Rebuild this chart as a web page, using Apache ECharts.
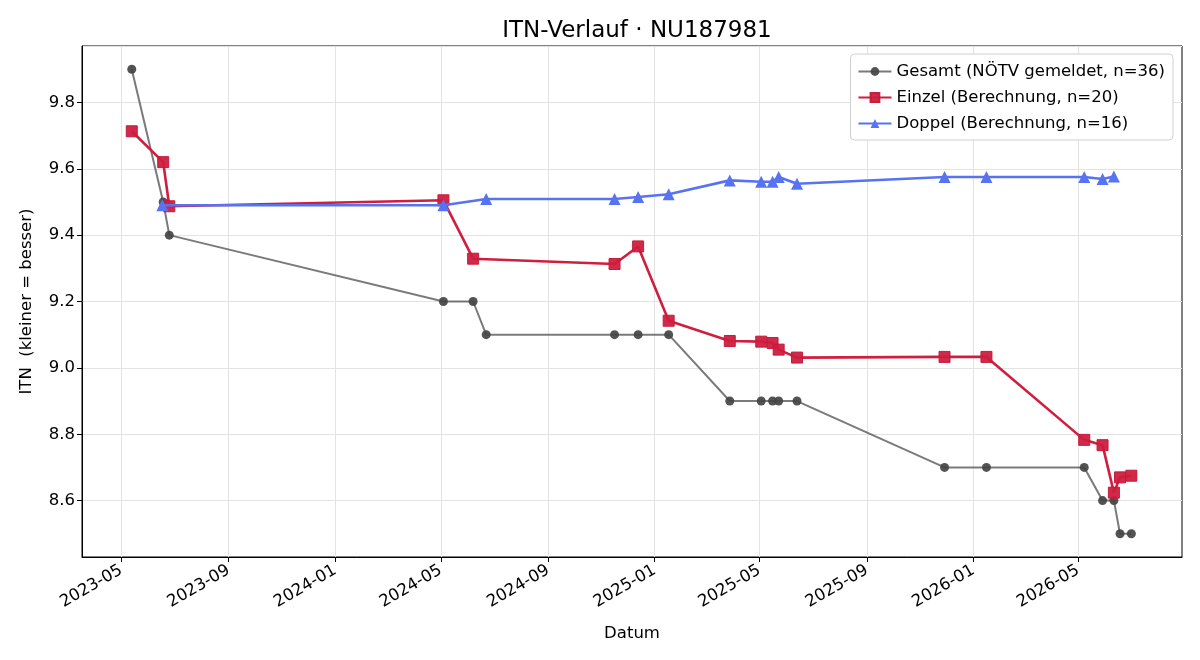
<!DOCTYPE html>
<html>
<head>
<meta charset="utf-8">
<script src="https://cdn.jsdelivr.net/npm/echarts@6/dist/echarts.min.js"></script>
<style>
  html, body { margin: 0; padding: 0; background: #fff; }
  #chart { width: 1200px; height: 660px; }
</style>
</head>
<body>
<div id="chart"></div>
<script>
// Gesamt (gemeldet)
const gesamtDates = ['2023-05-13', '2023-06-18', '2023-06-25', '2024-05-04', '2024-06-07', '2024-06-22',
  '2024-11-16', '2024-12-13', '2025-01-17', '2025-03-28', '2025-05-03', '2025-05-16', '2025-05-23',
  '2025-06-13', '2025-11-29', '2026-01-16', '2026-05-08', '2026-05-29', '2026-06-11', '2026-06-18', '2026-07-01'];
const gesamtValues = [9.9, 9.5, 9.4, 9.2, 9.2, 9.1, 9.1, 9.1, 9.1, 8.9, 8.9, 8.9, 8.9, 8.9, 8.7, 8.7, 8.7, 8.6, 8.6, 8.5, 8.5];

// Einzel (Berechnung)
const einzelDates = ['2023-05-13', '2023-06-18', '2023-06-25', '2024-05-04', '2024-06-07', '2024-11-16',
  '2024-12-13', '2025-01-17', '2025-03-28', '2025-05-03', '2025-05-16', '2025-05-23', '2025-06-13',
  '2025-11-29', '2026-01-16', '2026-05-08', '2026-05-29', '2026-06-11', '2026-06-18', '2026-07-01'];
const einzelValues = [9.713, 9.62, 9.487, 9.505, 9.329, 9.313, 9.366, 9.142, 9.081, 9.079, 9.075, 9.055, 9.031,
  9.033, 9.033, 8.783, 8.767, 8.624, 8.670, 8.675];

// Doppel (Berechnung)
const doppelDates = ['2023-06-17', '2024-05-04', '2024-06-22', '2024-11-16', '2024-12-13', '2025-01-17',
  '2025-03-28', '2025-05-03', '2025-05-16', '2025-05-23', '2025-06-13', '2025-11-29', '2026-01-16',
  '2026-05-08', '2026-05-29', '2026-06-11'];
const doppelValues = [9.49, 9.49, 9.509, 9.509, 9.515, 9.523, 9.565, 9.561, 9.561, 9.575, 9.555, 9.575, 9.575,
  9.575, 9.569, 9.577];

// x-Achse: alle 4 Monate
const xTicks = ['2023-05-01', '2023-09-01', '2024-01-01', '2024-05-01', '2024-09-01', '2025-01-01',
  '2025-05-01', '2025-09-01', '2026-01-01', '2026-05-01'];
const xMin = '2023-03-17';
const xMax = '2026-08-28';

const ts = s => { const p = s.split('-').map(Number); return Date.UTC(p[0], p[1] - 1, p[2]); };
const zip = (d, v) => d.map((x, i) => [ts(x), v[i]]);
const xTickValues = xTicks.map(ts);
const font = 'DejaVu Sans';
const fs = 16.5;

const chart = echarts.init(document.getElementById('chart'));
const option = {
  animation: false,
  textStyle: { fontFamily: font },
  title: {
    text: 'ITN-Verlauf · NU187981',
    left: 632,
    top: 15,
    textAlign: 'center',
    textStyle: { fontFamily: font, fontSize: 23, fontWeight: 'normal', color: '#000' }
  },
  legend: {
    orient: 'vertical',
    right: 27,
    top: 54,
    itemWidth: 33,
    itemHeight: 11,
    itemGap: 9,
    padding: [9, 8, 8, 7],
    backgroundColor: '#fff',
    borderColor: '#d0d0d0',
    borderWidth: 1,
    borderRadius: 4,
    textStyle: { fontFamily: font, fontSize: fs, color: '#000' },
    data: ['Gesamt (NÖTV gemeldet, n=36)', 'Einzel (Berechnung, n=20)', 'Doppel (Berechnung, n=16)']
  },
  grid: {
    left: 82, right: 18, top: 46, bottom: 103,
    show: true, borderColor: '#000', borderWidth: 1
  },
  xAxis: {
    type: 'value',
    min: ts(xMin),
    max: ts(xMax),
    name: 'Datum',
    nameLocation: 'middle',
    nameGap: 68,
    nameTextStyle: { fontFamily: font, fontSize: fs, color: '#000' },
    axisLine: { lineStyle: { color: '#000', width: 1 } },
    axisTick: { show: true, length: 5, customValues: xTickValues, lineStyle: { color: '#000' } },
    axisLabel: {
      customValues: xTickValues,
      rotate: 30,
      fontFamily: font,
      fontSize: fs,
      color: '#000',
      margin: 12,
      formatter: v => {
        const d = new Date(v);
        return d.getUTCFullYear() + '-' + String(d.getUTCMonth() + 1).padStart(2, '0');
      }
    },
    splitLine: { show: true, lineStyle: { color: '#e3e3e3', width: 1 } }
  },
  yAxis: {
    type: 'value',
    min: 8.43,
    max: 9.97,
    splitNumber: 8,
    minInterval: 0.2,
    maxInterval: 0.2,
    name: 'ITN  (kleiner = besser)',
    nameLocation: 'middle',
    nameGap: 47,
    nameTextStyle: { fontFamily: font, fontSize: fs, color: '#000' },
    axisLine: { show: true, lineStyle: { color: '#000', width: 1 } },
    axisTick: { show: true, length: 5, lineStyle: { color: '#000' } },
    axisLabel: {
      fontFamily: font, fontSize: fs, color: '#000', margin: 7,
      showMinLabel: false, showMaxLabel: false,
      formatter: v => v.toFixed(1)
    },
    splitLine: { show: true, lineStyle: { color: '#e3e3e3', width: 1 } }
  },
  series: [
    {
      name: 'Gesamt (NÖTV gemeldet, n=36)',
      type: 'line',
      data: zip(gesamtDates, gesamtValues),
      symbol: 'circle',
      symbolSize: 9,
      lineStyle: { color: 'rgba(70,70,70,0.72)', width: 2 },
      itemStyle: { color: '#444', borderWidth: 0, opacity: 0.92 },
      z: 2
    },
    {
      name: 'Einzel (Berechnung, n=20)',
      type: 'line',
      data: zip(einzelDates, einzelValues),
      symbol: 'rect',
      symbolSize: 11,
      lineStyle: { color: '#cf1e3f', width: 2.6 },
      itemStyle: { color: '#cf1e3f', borderColor: '#c41838', borderWidth: 1, opacity: 0.95 },
      z: 3
    },
    {
      name: 'Doppel (Berechnung, n=16)',
      type: 'line',
      data: zip(doppelDates, doppelValues),
      symbol: 'triangle',
      symbolSize: 12,
      lineStyle: { color: '#5773f2', width: 2.6 },
      itemStyle: { color: '#5773f2', borderWidth: 0 },
      z: 4
    }
  ]
};
chart.setOption(option);
</script>
</body>
</html>
